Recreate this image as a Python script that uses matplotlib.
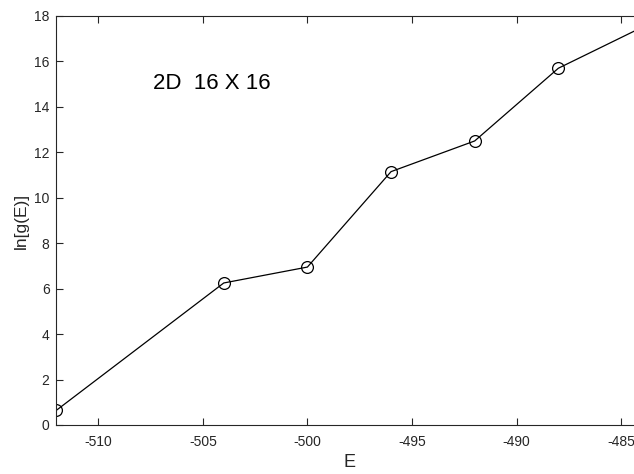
import numpy as np
import matplotlib.pyplot as plt

plt.rcParams['font.family'] = ['Liberation Sans', 'DejaVu Sans']
plt.rcParams['axes.unicode_minus'] = False

# data (last point lies past the cropped right edge)
energy = [-512, -504, -500, -496, -492, -488, -484]
lng = [0.65, 6.25, 6.95, 11.15, 12.5, 15.7, 17.5]

fig = plt.figure(figsize=(6.34, 4.74), dpi=100)
ax = fig.add_axes([0.0891, 0.1034, 0.9235, 0.8629])

ax.plot(energy, lng, color='black', lw=0.9, marker='o', markersize=8.5,
        markerfacecolor='none', markeredgewidth=0.9)

ax.set_xlim(-512, -484)
ax.set_ylim(0, 18)
ax.set_xticks([-510, -505, -500, -495, -490, -485])
ax.set_yticks(np.arange(0, 19, 2))

axis_col = '#262626'
for s in ax.spines.values():
    s.set_color(axis_col)
    s.set_linewidth(0.8)
ax.tick_params(direction='in', top=True, right=True, length=5, width=0.8,
               color=axis_col, labelcolor=axis_col, labelsize=10)
ax.tick_params(axis='x', pad=7)
ax.tick_params(axis='y', pad=5)

ax.set_xlabel('E', fontsize=13, color=axis_col, labelpad=4)
ax.set_ylabel('ln[g(E)]', fontsize=12.5, color=axis_col, labelpad=4)

ax.text(-507.4, 15.05, '2D  16 X 16', fontsize=16, ha='left', va='center')

fig.savefig('out.png', dpi=100)
